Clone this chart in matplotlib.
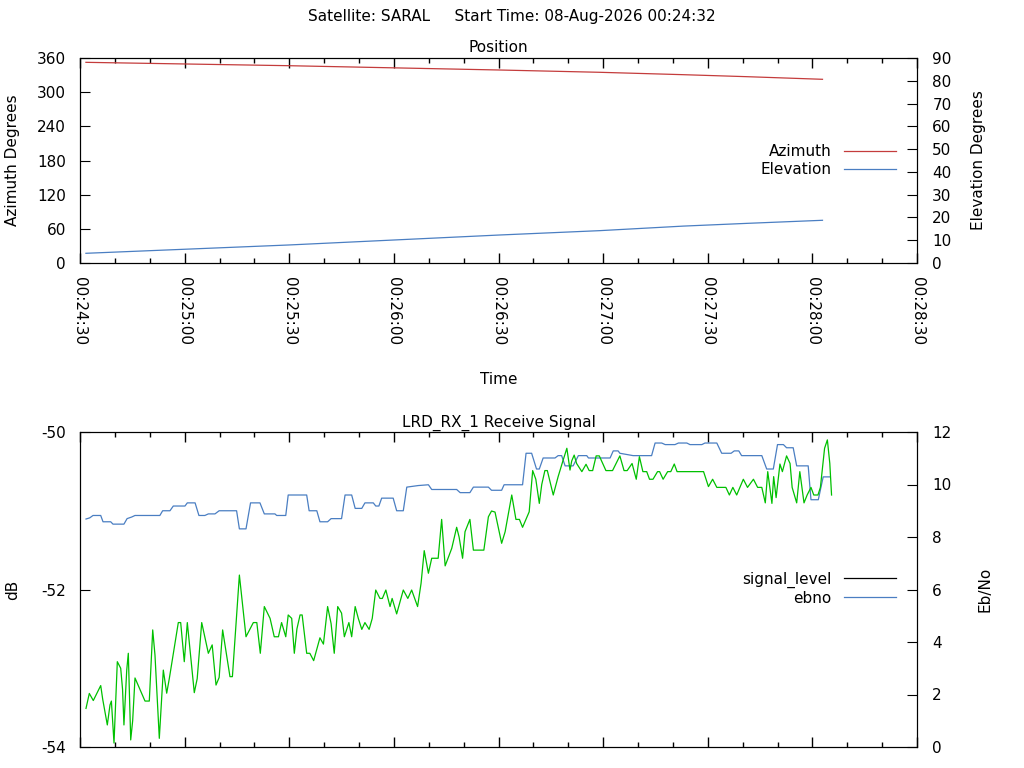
import numpy as np
import pandas as pd
import matplotlib
matplotlib.use("Agg")
import matplotlib.pyplot as plt
import matplotlib.dates as mdates
from matplotlib.lines import Line2D

# seconds after 00:24:30
pos_t = [1.7, 59.7, 120.4, 149.0, 173.0, 191.2, 212.9]
azimuth = [352.4, 346.5, 338.9, 334.9, 330.7, 327.2, 322.6]
elevation = [4.26, 7.9, 12.3, 14.2, 16.2, 17.4, 18.75]

ebno_t = [1.72, 2.67, 3.81, 5.94, 6.51, 7.83, 8.6, 9.0, 9.75, 10.7, 11.67, 12.2, 12.6,
          13.4, 13.85, 14.54, 15.1, 15.77, 18.64, 19.87, 20.85, 21.5, 22.74, 23.89,
          24.86, 25.6, 28.19, 28.87, 29.9, 30.77, 32.77, 33.6, 34.9, 36.8, 37.9, 39.0,
          39.9, 40.9, 43.0, 43.7, 45.7, 47.6, 49.7, 50.7, 51.7, 52.85, 54.5, 55.7, 56.9,
          57.8, 59.0, 59.7, 60.7, 61.45, 62.2, 63.1, 63.7, 65.0, 65.9, 67.0, 68.8, 69.8,
          71.0, 72.0, 72.9, 73.9, 75.0, 75.8, 77.1, 77.9, 78.9, 79.8, 80.8, 81.7, 82.9,
          83.8, 84.8, 86.0, 86.7, 87.7, 88.9, 89.5, 90.8, 92.7, 94.0, 95.1, 96.8, 97.8,
          98.7, 99.9, 100.4, 100.85, 102.7, 103.7, 104.7, 106.6, 108.0, 108.7, 109.7,
          110.4, 111.8, 112.8, 115.8, 117.1, 118.0, 119.0, 120.9, 121.9, 123.8, 125.0,
          126.0, 126.9, 128.8, 129.8, 130.7, 131.7, 132.4, 133.3, 134.0, 135.7, 137.1,
          138.4, 139.6, 140.5, 141.0, 141.7, 142.4, 143.9, 145.1, 146.0, 147.0, 148.0,
          148.9, 150.8, 152.7, 154.8, 156.0, 156.9, 158.3, 159.5, 160.4, 161.4, 162.5,
          163.3, 164.3, 165.6, 166.2, 167.2, 168.5, 169.4, 170.4, 171.2, 178.8, 180.2,
          181.4, 182.6, 185.2, 186.2, 187.2, 188.3, 190.2, 191.4, 193.1, 194.3, 195.5,
          196.5, 197.2, 198.4, 198.9, 199.6, 200.7, 201.4, 202.6, 203.6, 204.2, 205.5,
          206.4, 207.6, 208.5, 209.6, 210.4, 211.6, 212.3, 213.5, 214.3, 215.0, 215.5]
ebno = [1.47, 2.04, 1.77, 2.34, 1.82, 0.84, 1.6, 1.75, 0.15, 3.25, 3.0, 2.2, 0.84,
        2.93, 3.57, 0.27, 1.0, 2.63, 1.75, 1.75, 4.46, 3.5, 0.33, 2.93,
        2.05, 2.6, 4.74, 4.74, 3.25, 4.74, 2.07, 2.6, 4.74, 3.57, 3.89, 2.36,
        2.65, 4.46, 2.68, 2.68, 6.55, 4.2, 4.74, 4.74, 3.57, 5.35, 4.9, 4.2, 4.2,
        4.74, 4.2, 5.03, 4.9, 3.57, 4.5, 5.03, 5.03, 3.57, 3.57, 3.29, 4.16, 3.92,
        5.35, 4.7, 3.57, 5.35, 5.1, 4.2, 4.74, 4.2, 5.35, 4.9, 4.48, 4.74, 4.48,
        4.9, 5.98, 5.66, 5.66, 5.98, 5.35, 5.66, 5.07, 5.98, 5.66, 5.98, 5.35, 6.24,
        7.48, 6.62, 6.93, 7.19, 7.19, 8.67, 6.9, 7.57, 8.37, 8.0, 7.19,
        8.2, 8.67, 7.5, 7.5, 8.77, 8.99, 8.95, 7.76, 8.2, 9.6, 8.67,
        8.67, 8.37, 8.96, 10.53, 10.2, 9.28, 10.0, 10.53, 10.53, 9.6, 10.3,
        10.87, 11.38, 10.55, 10.9, 11.12, 10.8, 10.49, 10.77, 10.53, 10.53, 11.09,
        11.09, 10.53, 10.53, 11.09, 10.53, 10.53, 10.8, 10.2, 11.06, 10.49, 10.49,
        10.2, 10.2, 10.49, 10.49, 10.2, 10.49, 10.49, 10.78, 10.49, 10.49, 9.92,
        10.2, 9.89, 9.89, 9.6, 9.89, 9.6, 10.2, 9.89, 10.2, 9.89, 9.89,
        9.3, 10.49, 9.28, 10.3, 9.5, 10.78, 10.49, 11.09, 10.8, 9.89, 9.3,
        10.49, 9.3, 9.6, 9.89, 9.6, 9.6, 9.89, 11.38, 11.7, 10.8, 9.6]

sig_t = [1.72, 2.8, 3.73, 5.94, 6.6, 8.8, 9.46, 12.6, 13.5, 14.8, 15.77, 22.9, 23.7,
         25.8, 26.75, 30.1, 30.77, 33.0, 34.1, 35.8, 36.8, 38.7, 39.9, 44.9, 45.7,
         47.6, 48.9, 51.6, 52.85, 55.9, 56.4, 59.0, 59.7, 65.0, 65.7, 67.9, 68.8,
         71.0, 72.0, 75.0, 76.0, 77.9, 78.9, 80.8, 81.7, 84.1, 84.8, 85.7, 86.5,
         89.8, 90.8, 92.7, 93.7, 97.0, 99.9, 100.85, 108.0, 109.0, 111.8, 112.8,
         117.1, 118.0, 120.9, 121.6, 126.9, 127.9, 129.5, 130.9, 131.7, 132.8,
         136.2, 137.1, 138.1, 139.1, 141.4, 142.9, 145.3, 145.8, 152.0, 152.9,
         154.3, 154.8, 158.6, 163.9, 164.9, 166.8, 167.8, 170.6, 171.6, 174.0,
         174.9, 178.3, 179.2, 182.6, 184.0, 186.7, 187.6, 188.9, 189.7, 195.5,
         196.9, 198.8, 200.0, 201.7, 202.6, 204.5, 205.5, 208.8, 209.6, 211.7,
         213.1, 215.1]
signal_level = [-51.105, -51.09, -51.06, -51.06, -51.14, -51.14, -51.17, -51.17, -51.1,
                -51.08, -51.06, -51.06, -51.0, -51.0, -50.94, -50.94, -50.9, -50.9,
                -51.06, -51.06, -51.04, -51.04, -51.0, -51.0, -51.23, -51.23, -50.9,
                -50.9, -51.04, -51.04, -51.06, -51.06, -50.8, -50.8, -51.0, -51.0,
                -51.14, -51.14, -51.1, -51.1, -50.8, -50.8, -50.97, -50.97, -50.9,
                -50.9, -50.94, -50.94, -50.84, -50.84, -51.0, -51.0, -50.7, -50.68,
                -50.67, -50.73, -50.73, -50.77, -50.77, -50.7, -50.7, -50.74, -50.74,
                -50.67, -50.67, -50.27, -50.27, -50.47, -50.47, -50.33, -50.33, -50.3,
                -50.3, -50.43, -50.43, -50.3, -50.3, -50.33, -50.33, -50.24, -50.24,
                -50.27, -50.3, -50.3, -50.14, -50.14, -50.16, -50.16, -50.14, -50.14,
                -50.16, -50.16, -50.14, -50.14, -50.27, -50.27, -50.24, -50.24, -50.3,
                -50.3, -50.47, -50.47, -50.16, -50.16, -50.2, -50.2, -50.43, -50.43,
                -50.86, -50.86, -50.57, -50.57]

start = pd.Timestamp("2026-08-08 00:24:30")
def to_time(sec):
    return start + pd.to_timedelta(np.array(sec), unit="s")

RED = "#c43c3c"
BLUE = "#4a7ec2"
GREEN = "#00c000"
FS = 11

plt.rcParams["font.size"] = FS

fig = plt.figure(figsize=(10.24, 7.68), dpi=100)
ax1 = fig.add_axes([80 / 1024, 1 - 263 / 768, 837 / 1024, 205 / 768])
ax2 = fig.add_axes([80 / 1024, 1 - 747 / 768, 837 / 1024, 315 / 768])

fig.text(0.5, 1 - 17 / 768, "Satellite: SARAL     Start Time: 08-Aug-2026 00:24:32",
         ha="center", va="center", fontsize=FS)

def style_time_axis(ax, labels=True):
    ax.set_xlim(start, start + pd.Timedelta(seconds=240))
    ax.xaxis.set_major_locator(mdates.SecondLocator(bysecond=[0, 30]))
    ax.xaxis.set_minor_locator(mdates.SecondLocator(bysecond=range(0, 60, 10)))
    ax.xaxis.set_major_formatter(mdates.DateFormatter("%H:%M:%S"))
    ax.tick_params(axis="x", which="both", direction="in", top=True, bottom=True,
                   labelbottom=labels)
    ax.tick_params(axis="x", which="major", length=7, width=1, pad=10)
    ax.tick_params(axis="x", which="minor", length=3.5, width=1)
    if labels:
        for lab in ax.get_xticklabels():
            lab.set_rotation(270)
            lab.set_va("top")
            lab.set_ha("center")

# ---- Position ----
ax1.plot(to_time(pos_t), azimuth, color=RED, lw=0.9)
ax1.set_ylim(0, 360)
ax1.set_yticks(np.arange(0, 361, 60))
ax1.set_ylabel("Azimuth Degrees")
ax1.yaxis.set_label_coords(-60 / 837, 0.5)
ax1.tick_params(axis="y", direction="in", length=7, pad=10, right=False)
ax1.set_title("Position", fontsize=FS, pad=4)
style_time_axis(ax1)
ax1.set_xlabel("Time")
ax1.xaxis.set_label_coords(0.5, -(379 - 263) / 205)
ax1.xaxis.label.set_va("center")

ax1r = ax1.twinx()
ax1r.plot(to_time(pos_t), elevation, color=BLUE, lw=0.9)
ax1r.set_ylim(0, 90)
ax1r.set_yticks(np.arange(0, 91, 10))
ax1r.set_ylabel("Elevation Degrees")
ax1r.yaxis.set_label_coords(1 + 54 / 837, 0.5)
ax1r.tick_params(axis="y", direction="in", length=7, pad=11)

h1 = [Line2D([], [], color=RED, lw=0.9), Line2D([], [], color=BLUE, lw=0.9)]
ax1.legend(h1, ["Azimuth", "Elevation"], loc="center right",
           bbox_to_anchor=(0.982, 0.5), frameon=False, markerfirst=False,
           handlelength=3.4, handletextpad=0.8, labelspacing=0.2,
           borderaxespad=0, fontsize=FS)

# ---- LRD_RX_1 Receive Signal ----
ax2.plot(to_time(sig_t), signal_level, color=BLUE, lw=0.9)
ax2.set_ylim(-54, -50)
ax2.set_yticks([-54, -52, -50])
ax2.set_yticklabels(["-54", "-52", "-50"])
ax2.set_ylabel("dB")
ax2.yaxis.set_label_coords(-60 / 837, 0.5)
ax2.tick_params(axis="y", direction="in", length=7, pad=10, right=False)
ax2.set_title("LRD_RX_1 Receive Signal", fontsize=FS, pad=4)
style_time_axis(ax2, labels=False)

ax2r = ax2.twinx()
ax2r.plot(to_time(ebno_t), ebno, color=GREEN, lw=0.9)
ax2r.set_ylim(0, 12)
ax2r.set_yticks(np.arange(0, 13, 2))
ax2r.set_ylabel("Eb/No")
ax2r.yaxis.set_label_coords(1 + 60 / 837, 0.5)
ax2r.tick_params(axis="y", direction="in", length=7, pad=11)

h2 = [Line2D([], [], color="black", lw=0.9), Line2D([], [], color=BLUE, lw=0.9)]
ax2.legend(h2, ["signal_level", "ebno"], loc="center right",
           bbox_to_anchor=(0.982, 0.503), frameon=False, markerfirst=False,
           handlelength=3.4, handletextpad=0.8, labelspacing=0.2,
           borderaxespad=0, fontsize=FS)

fig.savefig("out.png", dpi=100)
